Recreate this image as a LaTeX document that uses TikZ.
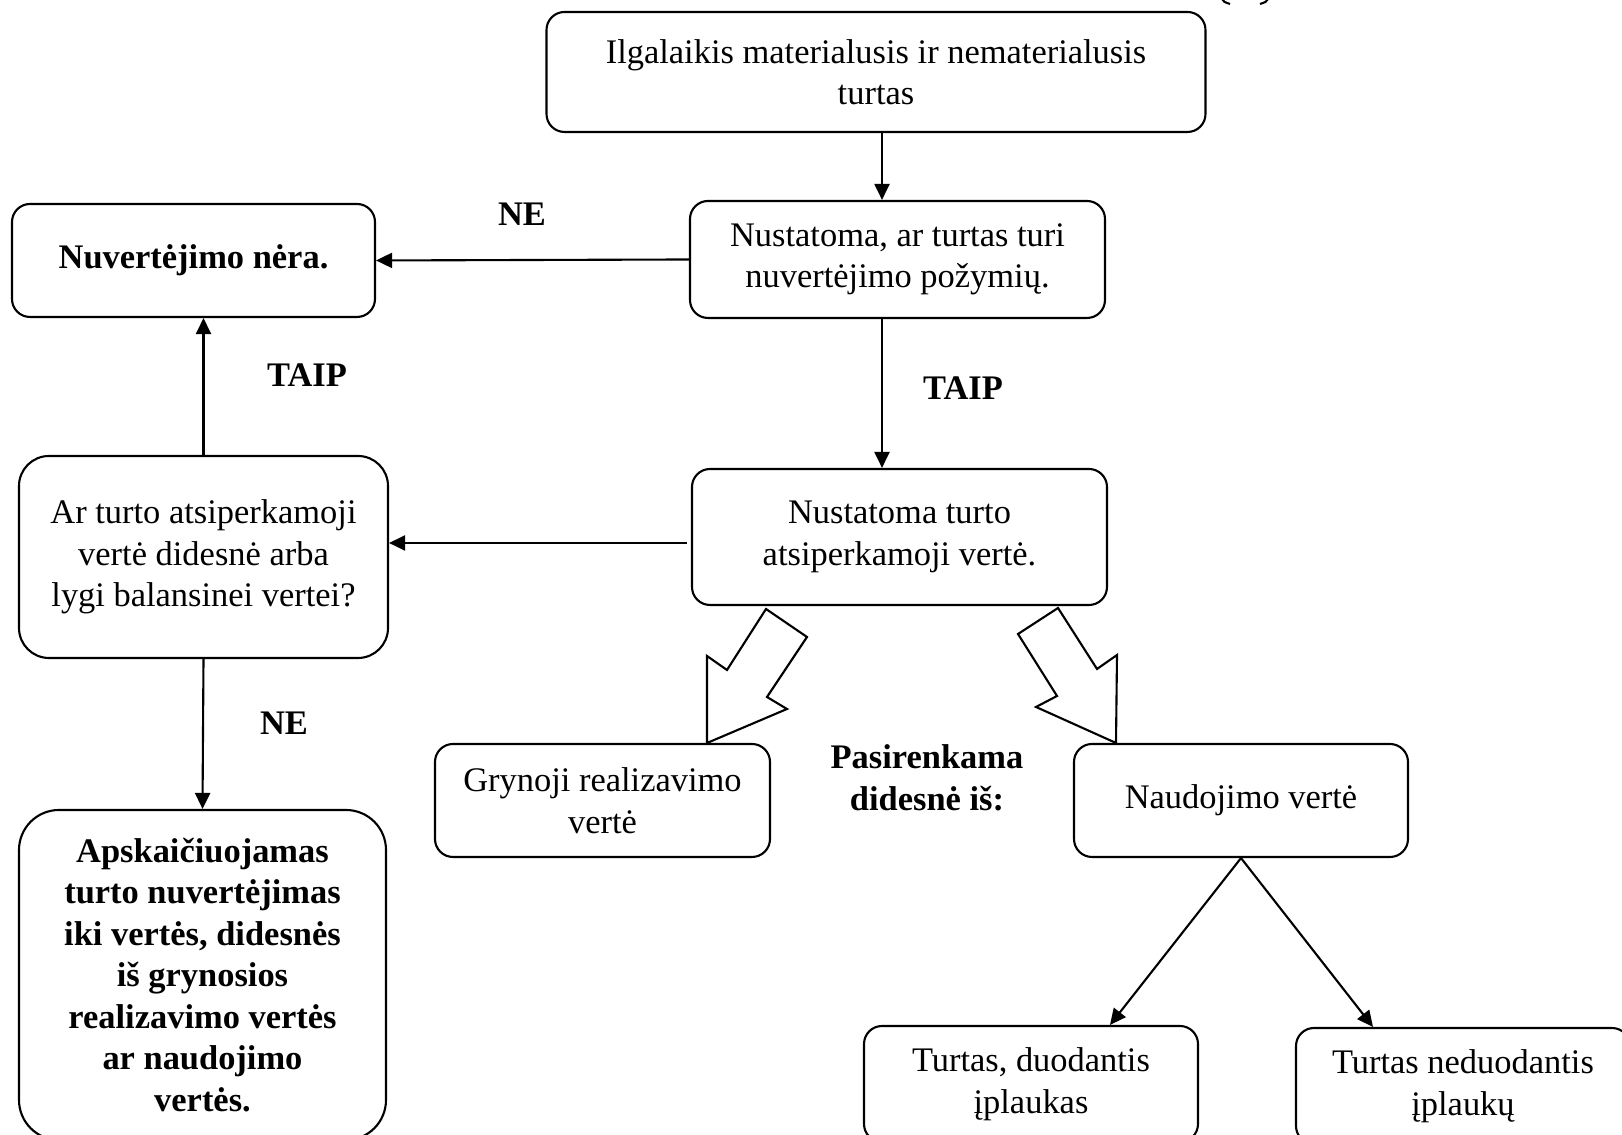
\documentclass[tikz,border=0pt]{standalone}
\usepackage{fontspec}
\setmainfont{Liberation Serif}
\usetikzlibrary{positioning}
\usetikzlibrary{arrows.meta}

\begin{document}
\begin{tikzpicture}[
  box/.style={draw, line width=0.6pt, rounded corners=0.18cm, align=center, inner sep=0pt,
    font=\fontsize{9.8}{11.8}\selectfont},
  boldbox/.style={box, font=\fontsize{9.8}{11.8}\selectfont\bfseries},
  lbl/.style={font=\fontsize{9.8}{11.8}\selectfont\bfseries, align=center},
  arr/.style={line width=0.6pt, -{Triangle[length=1.6mm,width=1.5mm]}},
  hollow/.style={draw, line width=0.6pt, line join=miter}
]

\useasboundingbox (0,0) rectangle (16.22,11.35);

% boxes
\node[box, minimum width=6.59cm, minimum height=1.20cm] (top) at (8.76,10.63)
{Ilgalaikis materialusis ir nematerialusis\\turtas};

\node[box, minimum width=4.15cm, minimum height=1.17cm] (check) at (8.975,8.755)
{Nustatoma, ar turtas turi\\nuvertėjimo požymių.};

\node[boldbox, minimum width=3.63cm, minimum height=1.13cm] (none) at (1.935,8.745)
{Nuvertėjimo nėra.};

\node[box, minimum width=4.15cm, minimum height=1.36cm] (value) at (8.995,5.98)
{Nustatoma turto\\atsiperkamoji vertė.};

\node[box, rounded corners=0.3cm, minimum width=3.69cm, minimum height=2.02cm] (compare) at (2.035,5.78)
{Ar turto atsiperkamoji\\vertė didesnė arba\\lygi balansinei vertei?};

\node[boldbox, rounded corners=0.4cm, minimum width=3.67cm, minimum height=3.30cm] (impair) at (2.025,1.60)
{Apskaičiuojamas\\turto nuvertėjimas\\iki vertės, didesnės\\iš grynosios\\realizavimo vertės\\ar naudojimo\\vertės.};

\node[box, minimum width=3.35cm, minimum height=1.13cm] (net) at (6.025,3.345)
{Grynoji realizavimo\\vertė};

\node[box, minimum width=3.34cm, minimum height=1.13cm] (use) at (12.41,3.345)
{Naudojimo vertė};

\node[box, minimum width=3.34cm, minimum height=1.16cm] (cash) at (10.31,0.51)
{Turtas, duodantis\\įplaukas};

\node[box, minimum width=3.34cm, minimum height=1.16cm] (nocash) at (14.63,0.49)
{Turtas neduodantis\\įplaukų};

% labels
\node[lbl] (ne1) at (5.22,9.21) {NE};
\node[lbl] (taip1) at (9.63,7.47) {TAIP};
\node[lbl] (taip2) at (3.07,7.60) {TAIP};
\node[lbl] (ne2) at (2.84,4.12) {NE};
\node[lbl] (pick) at (9.27,3.57) {Pasirenkama\\didesnė iš:};

% arrows
\coordinate (cx) at (8.82,0);
\coordinate (cy) at (0,5.92);
\draw[arr] (top.south -| cx) -- (check.north -| cx);
\draw[arr] (check.south -| cx) -- (value.north -| cx);
\draw[arr] (check.west) -- (none.east);
\draw[arr] ([xshift=-0.04cm]value.west |- cy) -- (compare.east |- cy);
\draw[arr] (compare.north) -- (none.south -| compare.north);
\draw[arr] (compare.south) -- (impair.north);
\draw[arr] (use.south) -- ([xshift=0.79cm]cash.north);
\draw[arr] (use.south) -- ([xshift=-0.90cm]nocash.north);

% hollow arrows
\draw[hollow] (7.66,5.26) -- (8.07,4.98) -- (7.67,4.38) -- (7.87,4.26) -- (7.07,3.92)
  -- (7.07,4.79) -- (7.27,4.65) -- cycle;
\draw[hollow] (10.58,5.27) -- (10.97,4.66) -- (11.17,4.80) -- (11.16,3.92) -- (10.36,4.28)
  -- (10.57,4.39) -- (10.18,5.01) -- cycle;

% cut off mark at top
\draw[line width=0.6pt] (12.22,11.36) .. controls (12.24,11.33) .. (12.30,11.31);
\draw[line width=0.6pt] (12.68,11.36) .. controls (12.66,11.33) .. (12.60,11.31);

\end{tikzpicture}
\end{document}
